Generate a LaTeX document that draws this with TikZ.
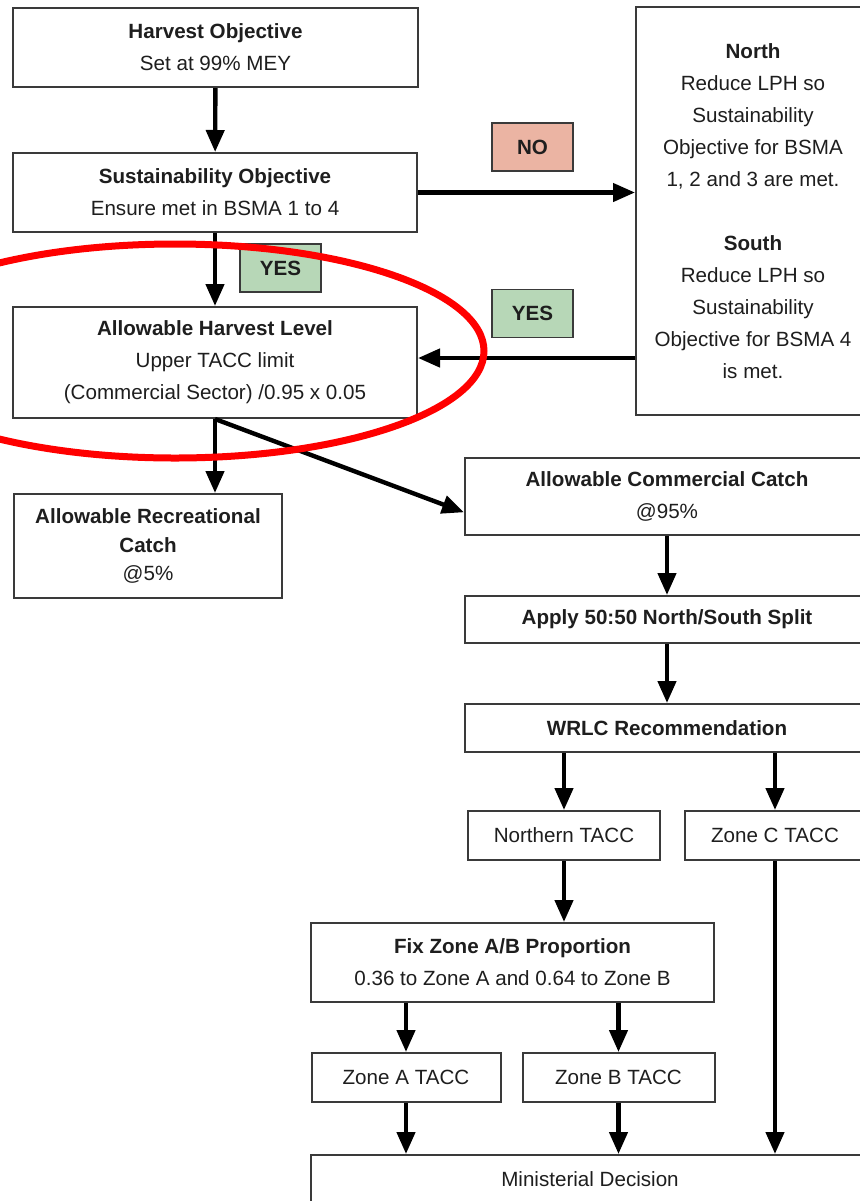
\documentclass[tikz,border=0pt]{standalone}
\usepackage{fontspec}
\setmainfont{Liberation Sans}
\usetikzlibrary{arrows.meta,calc}

\definecolor{yesgreen}{HTML}{B7D7B7}
\definecolor{nosalmon}{HTML}{EBB4A3}
\definecolor{boxline}{HTML}{3A3A3A}
\definecolor{boxtext}{HTML}{1E1E1E}

\tikzset{
  box/.style={draw=boxline, line width=1pt, fill=white, align=center, text=boxtext,
    inner sep=0pt, font=\fontsize{10.3}{16}\selectfont},
  tag/.style={draw=boxline, line width=0.9pt, minimum width=40.5pt, minimum height=24pt,
    inner sep=0pt, text=boxtext, font=\bfseries\fontsize{10.3}{16}\selectfont},
  flow/.style={line width=2.2pt, -{Triangle[width=9pt,length=11pt]}},
}

\begin{document}
\begin{tikzpicture}[x=0.5pt,y=-0.5pt]

	\useasboundingbox (0,0) rectangle (860,1201);
	\clip (0,0) rectangle (860,1201);

	% left column
	\node[box, minimum width=202.5pt, minimum height=39.5pt] (harvest) at (215.5,47.5)
	    {\textbf{Harvest Objective}\\Set at 99\% MEY};
	\node[box, minimum width=202pt, minimum height=39.5pt] (sustain) at (215,192.5)
	    {\textbf{Sustainability Objective}\\Ensure met in BSMA 1 to 4};
	\node[box, minimum width=202pt, minimum height=55.5pt] (allow) at (215,362.5)
	    {\textbf{Allowable Harvest Level}\\Upper TACC limit\\(Commercial Sector) /0.95 x 0.05};
	\node[box, minimum width=134pt, minimum height=52pt,
	      font=\fontsize{10.3}{14.3}\selectfont] (recr) at (148,546)
	    {\textbf{Allowable Recreational}\\\textbf{Catch}\\@5\%};

	% north / south reduction
	\node[box, minimum width=117pt, minimum height=204pt] (reduce) at (753,211)
	    {\textbf{North}\\Reduce LPH so\\Sustainability\\Objective for BSMA\\1, 2 and 3 are met.\\[16pt]
	     \textbf{South}\\Reduce LPH so\\Sustainability\\Objective for BSMA 4\\is met.};

	% commercial chain
	\node[box, minimum width=202pt, minimum height=38.5pt] (comm) at (667,496.5)
	    {\textbf{Allowable Commercial Catch}\\@95\%};
	\node[box, minimum width=202pt, minimum height=23.5pt] (split) at (667,619.5)
	    {\textbf{Apply 50:50 North/South Split}};
	\node[box, minimum width=202pt, minimum height=24pt] (wrlc) at (667,728)
	    {\textbf{WRLC Recommendation}};
	\node[box, minimum width=96pt, minimum height=24.5pt] (northern) at (564,835.5)
	    {Northern TACC};
	\node[box, minimum width=90pt, minimum height=24.5pt] (zonec) at (775,835.5)
	    {Zone C TACC};
	\node[box, minimum width=201.5pt, minimum height=39.5pt] (fix) at (512.5,962.5)
	    {\textbf{Fix Zone A/B Proportion}\\0.36 to Zone A and 0.64 to Zone B};
	\node[box, minimum width=94.5pt, minimum height=24.5pt] (zonea) at (406,1077.5)
	    {Zone A TACC};
	\node[box, minimum width=96pt, minimum height=24.5pt] (zoneb) at (618.5,1077.5)
	    {Zone B TACC};
	\node[box, minimum width=279pt, minimum height=24.5pt] (minist) at (590,1179.5)
	    {Ministerial Decision};

	% yes / no tags
	\node[tag, fill=nosalmon] (no) at (532.5,147) {NO};
	\node[tag, fill=yesgreen] (yesleft) at (280.5,268) {YES};
	\node[tag, fill=yesgreen] (yesright) at (532.5,313.5) {YES};

	% arrows
	\draw[flow] (harvest) -- (sustain);
	\draw[flow] (sustain) -- (allow);
	\draw[flow] (sustain.east) -- (sustain.east -| reduce.west);
	\draw[flow] (allow.east -| reduce.west) ++(0,-4.5) -- ($(allow.east)+(0,-4.5)$);
	\draw[flow] (allow.south) -- (allow.south |- recr.north);
	\draw[flow] (allow.south) -- ($(comm.north west)!0.7!(comm.south west)$);

	\draw[flow] (comm.south -| split.north) -- (split.north);
	\draw[flow] (split) -- (wrlc);
	\draw[flow] (northern.north |- wrlc.south) -- (northern.north);
	\draw[flow] (zonec.north |- wrlc.south) -- (zonec.north);
	\draw[flow] (northern.south) -- (northern.south |- fix.north);
	\draw[flow] (zonea.north |- fix.south) -- (zonea.north);
	\draw[flow] (zoneb.north |- fix.south) -- (zoneb.north);
	\draw[flow] (zonea.south) -- (zonea.south |- minist.north);
	\draw[flow] (zoneb.south) -- (zoneb.south |- minist.north);
	\draw[flow] (zonec.south) -- (zonec.south |- minist.north);

	% highlight
	\draw[red, line width=3.5pt] (175,351) ellipse [x radius=309, y radius=107];

\end{tikzpicture}
\end{document}
